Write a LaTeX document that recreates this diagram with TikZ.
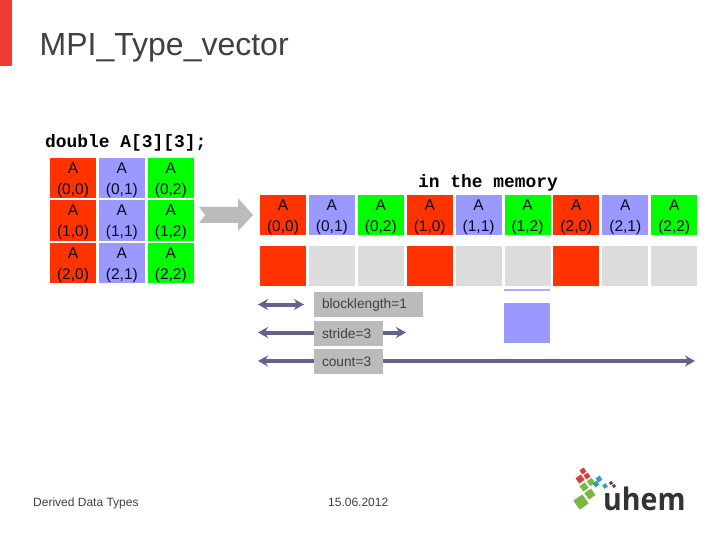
\documentclass[tikz,border=0pt]{standalone}
\usepackage{fontspec}
\setmainfont{Liberation Sans}
\setmonofont{Liberation Mono}
\newfontfamily\logofont{Open Sans}
\usetikzlibrary{positioning,arrows.meta}
\definecolor{redcell}{HTML}{FF3300}
\definecolor{bluecell}{HTML}{9999FF}
\definecolor{greencell}{HTML}{00FF00}
\definecolor{graycell}{HTML}{DCDCDC}
\definecolor{labelgray}{HTML}{BBBBBB}
\definecolor{spanline}{HTML}{62628E}
\definecolor{darktext}{HTML}{404040}
\definecolor{celltext}{HTML}{0A0A20}
\definecolor{barred}{HTML}{F23C32}
\definecolor{logored}{HTML}{D84040}
\definecolor{logogreen}{HTML}{7CB840}
\definecolor{logoteal}{HTML}{30A0A0}
\definecolor{logocyan}{HTML}{30A0D0}
\definecolor{logopurple}{HTML}{803060}
\newcommand{\elem}[1]{\rule{0pt}{15pt}A\\(#1)}
\tikzset{
  cell/.style={minimum width=46pt,minimum height=40pt,inner sep=0pt,outer sep=0pt,align=center,
    text=celltext,font=\fontsize{15.5}{21}\selectfont},
  rcell/.style={cell,fill=redcell},
  bcell/.style={cell,fill=bluecell},
  gcell/.style={cell,fill=greencell},
  hcell/.style={cell,fill=graycell},
  labelbox/.style={fill=labelgray,minimum height=25pt,inner xsep=8pt,inner ysep=0pt,outer sep=0pt,align=left,
    text=darktext,font=\fontsize{13.7}{16}\selectfont},
  span/.style={draw=spanline,line width=4pt,{Stealth[length=10pt,width=11pt]}-{Stealth[length=10pt,width=11pt]}},
  codetext/.style={font=\fontsize{17.9}{20}\ttfamily\bfseries\selectfont,inner sep=0pt},
  foottext/.style={font=\fontsize{12}{14}\selectfont,text=darktext,inner sep=0pt},
  logobit/.style={minimum width=#1,minimum height=#1,inner sep=0pt,outer sep=0pt,rotate=35}
}
\begin{document}
\begin{tikzpicture}[x=1pt,y=-1pt,node distance=2.9pt]
\useasboundingbox (0,0) rectangle (720,540);
\fill[white] (0,0) rectangle (720,540);
\fill[barred] (0,0) rectangle (12,66);
\node[anchor=base west,inner sep=0pt,text=darktext,font=\fontsize{32}{36}\selectfont] (title) at (39.5,56) {MPI\_Type\_vector};
\node[codetext,anchor=base west] (decl) at (45,148) {double A[3][3];};
% the 3x3 array
\node[rcell,anchor=north west] (a00) at (50,158) {\elem{0,0}};
\node[bcell,right=of a00] (a01) {\elem{0,1}};
\node[gcell,right=of a01] (a02) {\elem{0,2}};
\node[rcell,below=2.5pt of a00] (a10) {\elem{1,0}};
\node[bcell,right=of a10] (a11) {\elem{1,1}};
\node[gcell,right=of a11] (a12) {\elem{1,2}};
\node[rcell,below=2.5pt of a10] (a20) {\elem{2,0}};
\node[bcell,right=of a20] (a21) {\elem{2,1}};
\node[gcell,right=of a21] (a22) {\elem{2,2}};
\fill[labelgray] (199,207) -- (238,207) -- (238,198) -- (253,215) -- (238,231) -- (238,223) -- (199,223) -- (205,215) -- cycle;
% the same array in memory
\node[codetext,anchor=base west] (memtitle) at (418,188) {in the memory};
\node[rcell,anchor=north west] (m0) at (260,195) {\elem{0,0}};
\node[bcell,right=of m0] (m1) {\elem{0,1}};
\node[gcell,right=of m1] (m2) {\elem{0,2}};
\node[rcell,right=of m2] (m3) {\elem{1,0}};
\node[bcell,right=of m3] (m4) {\elem{1,1}};
\node[gcell,right=of m4] (m5) {\elem{1,2}};
\node[rcell,right=of m5] (m6) {\elem{2,0}};
\node[bcell,right=of m6] (m7) {\elem{2,1}};
\node[gcell,right=of m7] (m8) {\elem{2,2}};
\node[rcell,below=11pt of m0] (v0) {};
\node[hcell,right=of v0] (v1) {};
\node[hcell,right=of v1] (v2) {};
\node[rcell,right=of v2] (v3) {};
\node[hcell,right=of v3] (v4) {};
\node[hcell,right=of v4] (v5) {};
\node[rcell,right=of v5] (v6) {};
\node[hcell,right=of v6] (v7) {};
\node[hcell,right=of v7] (v8) {};
\fill[bluecell!80!white] (504,289) rectangle (550,291);
\node[bcell,anchor=north west] (unit) at (504,303) {};
% spans
\coordinate (blockL) at (258,304.5);
\coordinate (blockR) at (304,304.5);
\coordinate (strideL) at (258,332.5);
\coordinate (strideR) at (406,332.5);
\coordinate (countL) at (258,361);
\coordinate (countR) at (695,361);
\draw[span] (blockL) -- (blockR);
\draw[span] (strideL) -- (strideR);
\draw[span] (countL) -- (countR);
\node[labelbox,anchor=north west,text width=93pt] (blocklen) at (314,292) {blocklength=1};
\node[labelbox,anchor=north west,text width=53pt] (stride) at (314,321) {stride=3};
\node[labelbox,anchor=north west,text width=53pt] (count) at (314,349) {count=3};
% footer
\node[foottext,anchor=base west] (footer) at (33,506) {Derived Data Types};
\node[foottext,anchor=base west] (date) at (328,506) {15.06.2012};
\node[anchor=base west,inner sep=0pt,text=darktext!80!black,font=\logofont\bfseries\fontsize{31}{36}\selectfont] (logo) at (603,510) {\scalebox{0.92}[1]{uhem}};
\node[logobit=5pt,fill=logored] (l1) at (583,471) {};
\node[logobit=5pt,fill=logored] (l2) at (587,476) {};
\node[logobit=6.5pt,fill=logored] (l3) at (580,479) {};
\node[logobit=6.5pt,fill=logogreen] (l4) at (584,487) {};
\node[logobit=6pt,fill=logogreen] (l5) at (591,482) {};
\node[logobit=5pt,fill=logoteal] (l6) at (596,484) {};
\node[logobit=5pt,fill=logocyan] (l7) at (599,479) {};
\node[logobit=4pt,fill=logoteal] (l8) at (605,486) {};
\node[logobit=3pt,fill=logopurple] (l9) at (611,483) {};
\node[logobit=3pt,fill=logopurple] (l10) at (614,486) {};
\node[logobit=8pt,fill=logogreen] (l11) at (590,494) {};
\node[logobit=11pt,fill=logogreen] (l12) at (581,502) {};
\end{tikzpicture}
\end{document}
